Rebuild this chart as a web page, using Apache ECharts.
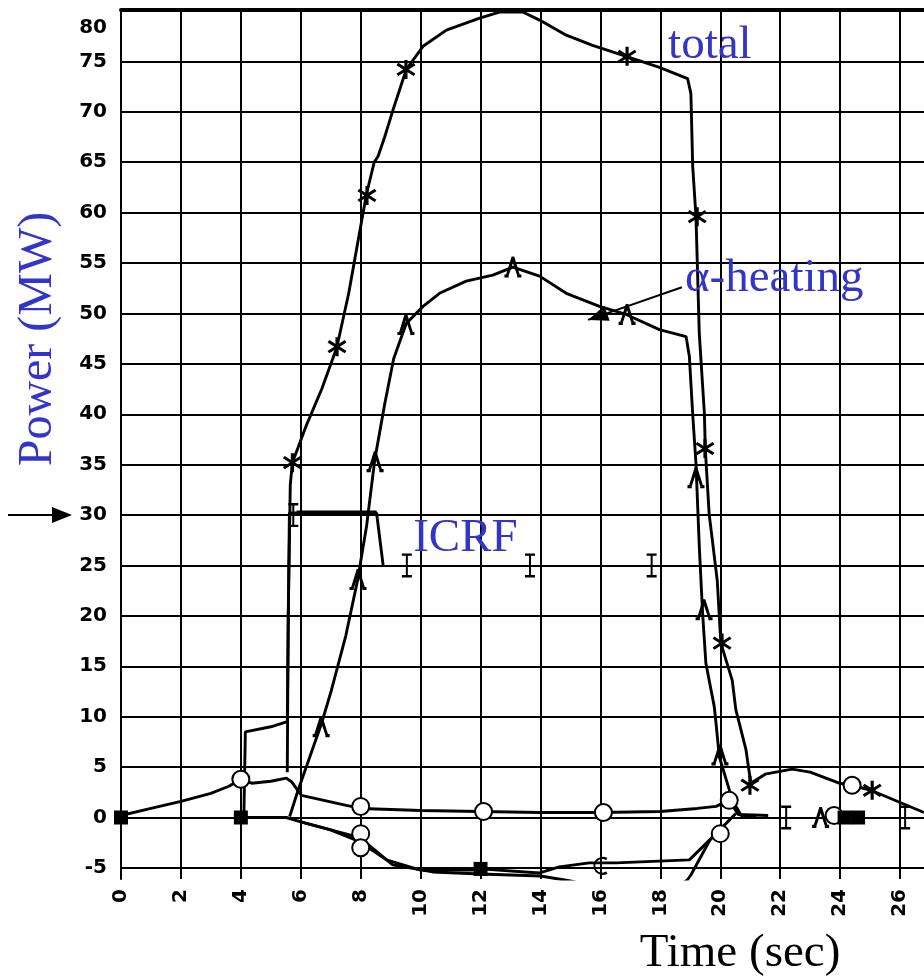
<!DOCTYPE html>
<html><head><meta charset="utf-8">
<script src="https://cdn.jsdelivr.net/npm/echarts@6/dist/echarts.min.js"></script>
<style>html,body{margin:0;padding:0;background:#fff}#c{width:924px;height:979px}</style>
</head><body><div id="c"></div>
<script>
// ---- axis ticks ----
const xTicks = [0,2,4,6,8,10,12,14,16,18,20,22,24,26];
const yTicks = [-5,0,5,10,15,20,25,30,35,40,45,50,55,60,65,70,75,80];

// ---- total power (line + star markers) ----
const totalLine = [[5.55,4.5],[5.58,20],[5.65,33],[5.72,35.2],[6.2,39],[6.7,42.5],[7.2,46.6],[7.6,52],[7.9,57],[8.19,61.8],[8.45,65],[8.58,65.6],[8.8,67.5],[9.08,70.2],[9.52,74.2],[10.08,76.5],[10.86,78.1],[11.97,79.3],[12.63,79.9],[13.41,79.9],[13.97,79.1],[14.86,77.6],[15.74,76.6],[16.86,75.5],[17.97,74.4],[18.91,73.3],[19.02,71.8],[19.08,64.6],[19.19,59.6],[19.3,48.0],[19.47,40.1],[19.5,36.6],[19.63,30.1],[19.9,23.5],[20.02,17.3],[20.4,13.6],[20.52,10.7],[20.86,6.7],[21.02,3.4],[21.5,4.3],[22.4,4.8],[23.0,4.5],[23.97,3.4],[24.4,3.2],[25.03,2.7],[26.8,0.5]];
const totalMarks = [[5.72,35.2],[7.21,46.7],[8.21,61.7],[9.51,74.2],[16.89,75.5],[19.23,59.6],[19.49,36.6],[20.06,17.3],[20.99,3.2],[25.07,2.7]];

// ---- alpha heating ----
const alphaLine = [[5.63,0.1],[5.91,2.7],[6.3,6.0],[6.69,9.3],[7.02,12.6],[7.5,18],[7.9,23.6],[8.2,29],[8.47,35.5],[8.8,41],[9.1,45.5],[9.52,49.0],[10.08,50.7],[10.63,52.0],[11.52,53.2],[12.41,53.8],[13.08,54.6],[13.97,53.7],[14.86,52.0],[15.97,50.7],[16.86,49.9],[17.97,48.4],[18.86,47.7],[18.97,45.7],[19.08,40],[19.19,35.1],[19.3,26.9],[19.41,20.3],[19.52,15.3],[19.8,11],[19.86,9.3],[19.97,6.0],[20.41,1.7],[20.7,0.2],[21.2,0]];
const alphaMarks = [[6.68,9.0],[7.91,23.6],[8.48,35.3],[9.51,48.9],[13.08,54.6],[16.89,49.9],[19.19,33.7],[19.46,20.6],[19.99,6.2],[23.35,0]];

// ---- ICRF ----
const icrfLine = [[4.1,0],[4.15,8.5],[5.0,9.0],[5.55,9.5],[5.62,30.2],[5.86,30.2],[8.53,30.2],[8.75,25]];
const icrfFlat = [[5.86,30.2],[8.53,30.2]];
const icrfMarks = [[5.75,30.0],[9.54,25.0],[13.65,25.0],[17.71,25.0],[22.2,0],[26.17,0]];

// ---- small positive term (circle markers) ----
const ohmLine = [[0,0.2],[1,0.9],[2,1.6],[3,2.4],[3.6,3.1],[4,3.8],[4.36,3.4],[5.0,3.6],[5.52,3.9],[5.69,3.55],[6.02,2.2],[7.52,1.2],[8.02,0.9],[10,0.7],[12,0.6],[14,0.5],[16,0.5],[18,0.6],[19.23,0.9],[19.86,1.1],[20.3,1.7],[20.6,0.3],[21.6,0.2]];
const circleMarks = [[4.0,3.8],[8.0,1.1],[8.0,-1.6],[8.0,-3.0],[12.1,0.6],[16.1,0.5],[20.3,1.7],[20.0,-1.6],[24.4,3.2],[23.8,0.2]];

// ---- losses (negative) ----
const loss1 = [[4,0],[5.52,0],[5.97,-0.4],[6.97,-1.2],[7.97,-2.4],[8.86,-4.2],[9.97,-5.2],[11.74,-5.2],[12,-5.1],[13.97,-5.5],[14.63,-4.9],[15.63,-4.5],[16.52,-4.5],[18.97,-4.2],[19.86,-1.6],[20.52,0.4]];
const loss2 = [[5.97,-0.4],[7.97,-2.0],[9.07,-4.7],[10.4,-5.4],[12,-5.6],[14,-5.8],[15,-6.3],[16,-7],[18.5,-7],[18.9,-6.2],[19.02,-5.7],[19.66,-2.2],[20.0,-1.2]];
const squareMarks = [[0,0],[4,0],[12,-5.1],[24.15,0],[24.6,0]];
const cMarks = [[16,-4.8]];

const BLUE = '#3434c8';
const starPath = 'path://M8.5,0L11.5,0L11.5,20L8.5,20Z M0.95,5.49L2.67,3.03L19.05,14.51L17.33,16.97Z M0.95,14.51L17.33,3.03L19.05,5.49L2.67,16.97Z';
const lambdaPath = 'path://M8.5,0L11.5,0L18,17L20,17L20,20L15,20L15,18L10,6L5,18L5,20L0,20L0,17L2,17Z';
const iPath = 'path://M0,0H10V2H6V18H10V20H0V18H4V2H0Z';
const cPath = 'path://M14,3 A8,8 0 1 0 14,17 L13,15 A6,6 0 1 1 13,5 Z';

const chart = echarts.init(document.getElementById('c'));
const lineS = (data, w) => ({type:'line', data, symbol:'none', silent:true, animation:false,
  lineStyle:{color:'#000', width:w||2.9}, clip:true, z:3});
const markS = (data, symbol, size, extra) => Object.assign({type:'scatter', data, symbol, symbolSize:size, silent:true, animation:false,
  itemStyle:{color:'#000', opacity:1}, z:4}, extra||{});

const option = {
  animation:false,
  backgroundColor:'#fff',
  grid:{left:121, top:10, width:803, height:869},
  xAxis:[{
    type:'value', min:0, max:26.8, position:'bottom',
    axisLine:{show:true, lineStyle:{color:'#000', width:2}},
    axisTick:{show:true, customValues:xTicks, length:5, lineStyle:{color:'#000', width:2}},
    axisLabel:{customValues:xTicks, rotate:90, margin:10, color:'#000', fontFamily:'DejaVu Sans', fontWeight:'bold', fontSize:20},
    splitLine:{show:true, lineStyle:{color:'#000', width:2}}
  },{
    type:'value', min:0, max:26.8, position:'top',
    axisLine:{show:true, onZero:false, lineStyle:{color:'#000', width:4}},
    axisTick:{show:false}, axisLabel:{show:false}, splitLine:{show:false}
  }],
  yAxis:{
    type:'value', min:-6.1, max:80.1,
    axisLine:{show:true, lineStyle:{color:'#000', width:2}},
    axisTick:{show:false, customValues:yTicks},
    axisLabel:{customValues:yTicks, margin:14, color:'#000', fontFamily:'DejaVu Sans', fontWeight:'bold', fontSize:20,
      formatter:v => v===80 ? '{d|80}' : String(v),
      rich:{d:{fontFamily:'DejaVu Sans', fontWeight:'bold', fontSize:20, color:'#000', padding:[33,0,0,0]}}},
    splitLine:{show:true, lineStyle:{color:'#000', width:2}}
  },
  series:[
    lineS(totalLine),
    lineS(alphaLine),
    lineS(icrfLine),
    Object.assign(lineS(icrfFlat, 5), {z:5}),
    lineS(ohmLine),
    lineS(loss1),
    lineS(loss2),
    markS(totalMarks, starPath, 19),
    markS(alphaMarks, lambdaPath, [17,21]),
    markS(icrfMarks, iPath, [10,24]),
    markS(circleMarks, 'emptyCircle', 17, {itemStyle:{color:'#000', borderColor:'#000', borderWidth:2.5, opacity:1}}),
    markS(squareMarks, 'rect', 14),
    markS(cMarks, cPath, [14,18])
  ]
};
chart.setOption(option);

const P = (x,y) => chart.convertToPixel({seriesIndex:0}, [x,y]);
const FONT = '47px "Liberation Serif", "Times New Roman", serif';
const MID = 14.3; // baseline offset from middle
function arrowHead(tip, from, len, half){
  const dx = tip[0]-from[0], dy = tip[1]-from[1];
  const L = Math.hypot(dx,dy), ux = dx/L, uy = dy/L;
  const bx = tip[0]-ux*len, by = tip[1]-uy*len;
  return [[tip[0],tip[1]],[bx-uy*half, by+ux*half],[bx+uy*half, by-ux*half]];
}
const tTotal = P(18.26, 75.15), tAlpha = P(18.82, 52.0), tIcrf = P(9.75, 26.2);
const aFrom = P(18.72, 52.6), aTip = P(15.59, 49.36);
const y30 = P(0, 30)[1];
const lTip = [72, y30], lFrom = [8, y30];
const graphic = [
  {type:'text', x:tTotal[0], y:tTotal[1]-MID, style:{text:'total', font:FONT, fill:BLUE, align:'left', verticalAlign:'middle'}, z:10},
  {type:'text', x:tAlpha[0], y:tAlpha[1]-MID, style:{text:'α-heating', font:FONT, fill:BLUE, align:'left', verticalAlign:'middle'}, z:10},
  {type:'text', x:tIcrf[0], y:tIcrf[1]-MID, style:{text:'ICRF', font:FONT, fill:BLUE, align:'left', verticalAlign:'middle'}, z:10},
  {type:'text', x:740, y:968-MID, style:{text:'Time (sec)', font:FONT, fill:'#000', align:'center', verticalAlign:'middle'}, z:10},
  {type:'text', x:38, y:339, rotation:Math.PI/2, style:{text:'Power (MW)', font:'48px "Liberation Serif", "Times New Roman", serif', fill:BLUE, align:'center', verticalAlign:'middle'}, z:10},
  {type:'line', shape:{x1:aFrom[0], y1:aFrom[1], x2:aTip[0], y2:aTip[1]}, style:{stroke:'#000', lineWidth:2}, z:10},
  {type:'polygon', shape:{points:arrowHead(aTip, aFrom, 20, 8)}, style:{fill:'#000'}, z:10},
  {type:'line', shape:{x1:lFrom[0], y1:lFrom[1], x2:lTip[0]-10, y2:lTip[1]}, style:{stroke:'#000', lineWidth:2}, z:10},
  {type:'polygon', shape:{points:arrowHead(lTip, lFrom, 20, 8)}, style:{fill:'#000'}, z:10}
];
chart.setOption({graphic});
</script>
</body></html>
